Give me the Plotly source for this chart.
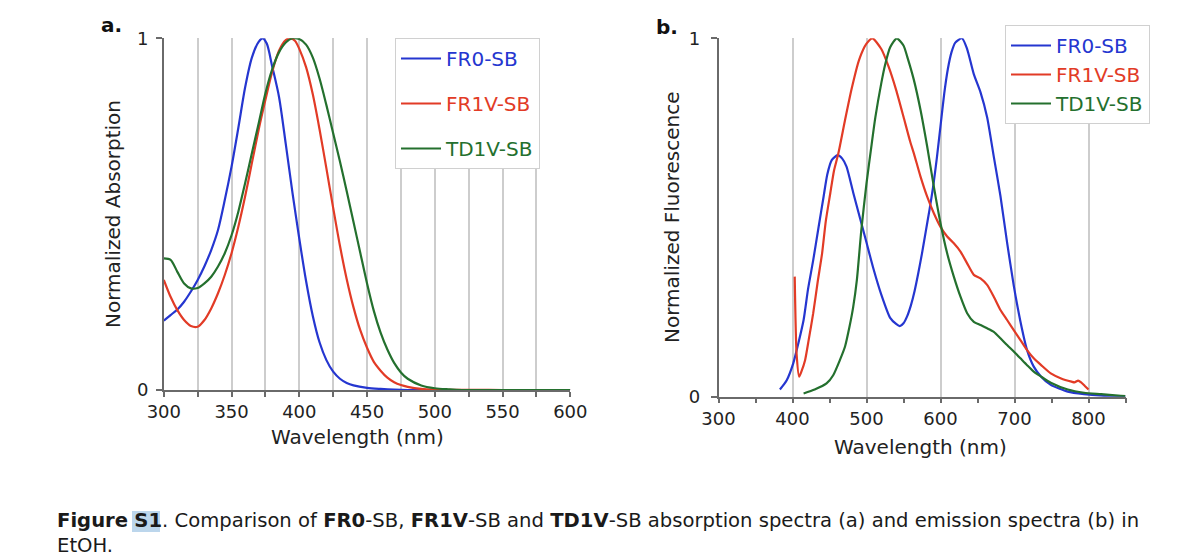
import plotly.graph_objects as go

# ---------------- data ----------------
# Panel a: normalized absorption
abs_fr0_wl = [300, 305, 310, 315, 320, 325, 330, 335, 340, 345, 350, 355, 360, 365, 370, 373, 376, 380, 385, 390,
              395, 400, 405, 410, 415, 420, 425, 430, 435, 440, 450, 460, 470, 480, 500, 550, 600]
abs_fr0 = [0.197, 0.213, 0.229, 0.251, 0.280, 0.313, 0.352, 0.398, 0.455, 0.540, 0.635, 0.745, 0.860, 0.945, 0.990,
           1.0, 0.985, 0.92, 0.834, 0.70, 0.56, 0.43, 0.31, 0.21, 0.135, 0.085, 0.052, 0.032, 0.020, 0.013, 0.006,
           0.003, 0.001, 0.0, 0.0, 0.0, 0.0]

abs_fr1v_wl = [300, 305, 310, 315, 320, 325, 330, 335, 340, 345, 350, 355, 360, 365, 370, 375, 380, 385, 390, 394,
               397, 400, 405, 410, 415, 420, 425, 430, 435, 440, 445, 450, 455, 460, 465, 470, 475, 480, 490, 500,
               550, 600]
abs_fr1v = [0.313, 0.265, 0.227, 0.199, 0.182, 0.180, 0.199, 0.232, 0.275, 0.327, 0.389, 0.464, 0.550, 0.645, 0.740,
            0.825, 0.905, 0.965, 0.995, 1.0, 0.992, 0.970, 0.918, 0.840, 0.740, 0.630, 0.518, 0.410, 0.315, 0.235,
            0.170, 0.120, 0.080, 0.055, 0.035, 0.022, 0.014, 0.009, 0.003, 0.001, 0.0, 0.0]

abs_td1v_wl = [300, 305, 310, 315, 320, 325, 330, 335, 340, 345, 350, 355, 360, 365, 370, 375, 380, 385, 390, 395,
               400, 405, 410, 415, 420, 425, 430, 435, 440, 445, 450, 455, 460, 465, 470, 475, 480, 490, 500, 510,
               520, 600]
abs_td1v = [0.374, 0.370, 0.336, 0.303, 0.289, 0.290, 0.303, 0.322, 0.351, 0.389, 0.440, 0.507, 0.588, 0.673, 0.758,
            0.844, 0.912, 0.960, 0.988, 1.0, 0.998, 0.982, 0.945, 0.885, 0.810, 0.730, 0.650, 0.565, 0.478, 0.390,
            0.303, 0.225, 0.163, 0.115, 0.077, 0.050, 0.032, 0.013, 0.005, 0.002, 0.0, 0.0]

# Panel b: normalized fluorescence
fl_fr0_wl = [383, 392, 401, 408, 415, 421, 428, 435, 442, 447, 453, 461, 467, 473, 482, 491, 500, 509, 520, 532,
             540, 545, 550, 555, 560, 565, 570, 575, 580, 585, 590, 595, 600, 605, 610, 615, 620, 629, 636, 645,
             654, 663, 672, 681, 690, 699, 708, 717, 726, 736, 749, 772, 794, 817, 850]
fl_fr0 = [0.020, 0.045, 0.093, 0.150, 0.214, 0.300, 0.381, 0.470, 0.558, 0.620, 0.660, 0.674, 0.665, 0.642, 0.570,
          0.500, 0.430, 0.360, 0.285, 0.220, 0.203, 0.197, 0.205, 0.225, 0.255, 0.295, 0.345, 0.400, 0.460, 0.520,
          0.585, 0.665, 0.755, 0.845, 0.915, 0.962, 0.988, 1.0, 0.970, 0.900, 0.850, 0.780, 0.670, 0.560, 0.430,
          0.310, 0.210, 0.130, 0.084, 0.056, 0.033, 0.014, 0.007, 0.003, 0.001]

fl_fr1v_wl = [403, 405.5, 409, 412, 417, 422, 428, 434, 440, 445, 451, 456, 462, 471, 480, 490, 500, 508, 520, 530,
              540, 550, 559, 564, 573, 582, 591, 600, 609, 618, 627, 636, 645, 654, 663, 672, 681, 690, 699, 708,
              717, 726, 736, 749, 763, 777, 781, 786, 790, 795, 800]
fl_fr1v = [0.335, 0.121, 0.056, 0.070, 0.102, 0.160, 0.233, 0.320, 0.400, 0.490, 0.567, 0.630, 0.679, 0.772, 0.860,
           0.940, 0.985, 1.0, 0.970, 0.920, 0.856, 0.781, 0.712, 0.679, 0.614, 0.558, 0.512, 0.474, 0.447, 0.428,
           0.405, 0.372, 0.340, 0.330, 0.312, 0.279, 0.242, 0.214, 0.186, 0.158, 0.130, 0.107, 0.088, 0.065, 0.051,
           0.042, 0.040, 0.045, 0.040, 0.030, 0.020]

fl_td1v_wl = [415, 430, 446, 455, 464, 471, 477, 482, 487, 493, 500, 507, 512, 520, 525, 532, 541, 550, 555, 564,
              573, 582, 591, 600, 609, 618, 627, 636, 645, 654, 663, 672, 681, 690, 699, 708, 717, 726, 736, 749,
              772, 794, 817, 840, 850]
fl_td1v = [0.009, 0.020, 0.037, 0.060, 0.102, 0.140, 0.195, 0.250, 0.326, 0.465, 0.595, 0.705, 0.780, 0.875, 0.925,
           0.975, 1.0, 0.980, 0.949, 0.884, 0.800, 0.698, 0.586, 0.484, 0.400, 0.335, 0.279, 0.233, 0.209, 0.200,
           0.191, 0.181, 0.163, 0.144, 0.126, 0.107, 0.088, 0.070, 0.056, 0.039, 0.020, 0.011, 0.007, 0.003, 0.002]

series_names = ["FR0-SB", "FR1V-SB", "TD1V-SB"]
x_ticks_a = [300, 350, 400, 450, 500, 550, 600]
x_ticks_b = [300, 400, 500, 600, 700, 800]
y_ticks = [0, 1]

# ---------------- style ----------------
W, H = 1190, 560
OFF = 8  # page body margin offset
FONT = "DejaVu Sans"
COLORS = ["#2536d0", "#e23b26", "#24702e"]
AXIS = "#6a6a6a"
GRID = "#cdcdcd"

fig = go.Figure()

abs_sets = [(abs_fr0_wl, abs_fr0), (abs_fr1v_wl, abs_fr1v), (abs_td1v_wl, abs_td1v)]
fl_sets = [(fl_fr0_wl, fl_fr0), (fl_fr1v_wl, fl_fr1v), (fl_td1v_wl, fl_td1v)]

for i, (xw, yv) in enumerate(abs_sets):
    fig.add_trace(go.Scatter(
        x=xw, y=yv, mode="lines", xaxis="x", yaxis="y",
        line=dict(color=COLORS[i], width=2.2, shape="spline", smoothing=0.8),
        name=f"<span style='color:{COLORS[i]}'>{series_names[i]}</span>",
        legend="legend", legendgroup=f"a{i}",
    ))
for i, (xw, yv) in enumerate(fl_sets):
    fig.add_trace(go.Scatter(
        x=xw, y=yv, mode="lines", xaxis="x2", yaxis="y2",
        line=dict(color=COLORS[i], width=2.2, shape="spline", smoothing=0.6),
        name=f"<span style='color:{COLORS[i]}'>{series_names[i]}</span>",
        legend="legend2", legendgroup=f"b{i}",
    ))

def px_x(p):
    return (p - OFF) / W

def px_y(p):
    return 1 - (p - OFF) / H

common_axis = dict(showline=True, linecolor=AXIS, linewidth=1.5, ticks="outside", tickcolor=AXIS,
                   tickwidth=1.5, zeroline=False, tickfont=dict(family=FONT, size=18, color="#222"),
                   fixedrange=True, automargin=False)

fig.update_layout(
    width=W, height=H, margin=dict(l=0, r=0, t=0, b=0, autoexpand=False),
    paper_bgcolor="white", plot_bgcolor="white",
    font=dict(family=FONT, color="#222"),
    xaxis=dict(domain=[px_x(163.8), px_x(570.3)], range=[300, 600], tickvals=x_ticks_a,
               ticklen=5, showgrid=True, gridcolor=GRID, gridwidth=1.5, anchor="y",
               minor=dict(tick0=300, dtick=25, ticks="outside", ticklen=5, tickcolor=AXIS,
                          showgrid=True, gridcolor=GRID, gridwidth=1.5),
               **common_axis),
    yaxis=dict(domain=[px_y(390), px_y(38.3)], range=[0, 1], tickvals=y_ticks, ticklabelstandoff=4,
               ticklen=6, showgrid=True, gridcolor=GRID, gridwidth=1.5, anchor="x", **common_axis),
    xaxis2=dict(domain=[px_x(718.5), px_x(1125.5)], range=[300, 850], tickvals=x_ticks_b,
                ticklen=5, showgrid=True, gridcolor=GRID, gridwidth=1.5, anchor="y2",
                minor=dict(tick0=300, dtick=50, ticks="outside", ticklen=5, tickcolor=AXIS, showgrid=False),
                **common_axis),
    yaxis2=dict(domain=[px_y(396.7), px_y(38.3)], range=[0, 1], tickvals=y_ticks, ticklabelstandoff=7,
                ticklen=6, showgrid=True, gridcolor=GRID, gridwidth=1.5, anchor="x2", **common_axis),
    legend=dict(x=px_x(395), y=px_y(38), xanchor="left", yanchor="top", bgcolor="white",
                bordercolor="#d0d0d0", borderwidth=1, font=dict(family=FONT, size=20),
                tracegroupgap=16, itemwidth=40),
    legend2=dict(x=px_x(1005), y=px_y(25), xanchor="left", yanchor="top", bgcolor="white",
                 bordercolor="#d0d0d0", borderwidth=1, font=dict(family=FONT, size=20),
                 tracegroupgap=0, itemwidth=40),
    showlegend=True,
)

annotations = [
    dict(text="<b>a.</b>", x=px_x(99), y=px_y(25), xanchor="left", yanchor="middle",
         font=dict(size=20, family=FONT, color="#111")),
    dict(text="<b>b.</b>", x=px_x(654), y=px_y(27), xanchor="left", yanchor="middle",
         font=dict(size=20, family=FONT, color="#111")),
    dict(text="Normalized Absorption", x=px_x(113), y=px_y(214), textangle=-90,
         xanchor="center", yanchor="middle", font=dict(size=20, family=FONT, color="#222")),
    dict(text="Normalized Fluorescence", x=px_x(672), y=px_y(217), textangle=-90,
         xanchor="center", yanchor="middle", font=dict(size=20, family=FONT, color="#222")),
    dict(text="Wavelength (nm)", x=px_x(357), y=px_y(437), xanchor="center", yanchor="middle",
         font=dict(size=20, family=FONT, color="#222")),
    dict(text="Wavelength (nm)", x=px_x(920), y=px_y(447), xanchor="center", yanchor="middle",
         font=dict(size=20, family=FONT, color="#222")),
    dict(text=("<b>Figure</b> <b>S1</b>. Comparison of <b>FR0</b>-SB, <b>FR1V</b>-SB and <b>TD1V</b>-SB "
               "absorption spectra (a) and emission spectra (b) in<br>EtOH."),
         x=px_x(55), y=px_y(507), xanchor="left", yanchor="top", align="left",
         font=dict(size=19.6, family=FONT, color="#1a1a1a")),
]
for a in annotations:
    a.update(xref="paper", yref="paper", showarrow=False)
fig.update_layout(annotations=annotations)

fig.add_shape(type="rect", xref="paper", yref="paper", layer="below",
              x0=px_x(132), x1=px_x(160), y0=px_y(532), y1=px_y(511),
              fillcolor="#bcd6ec", line=dict(width=0))

fig.write_html("out.html")
